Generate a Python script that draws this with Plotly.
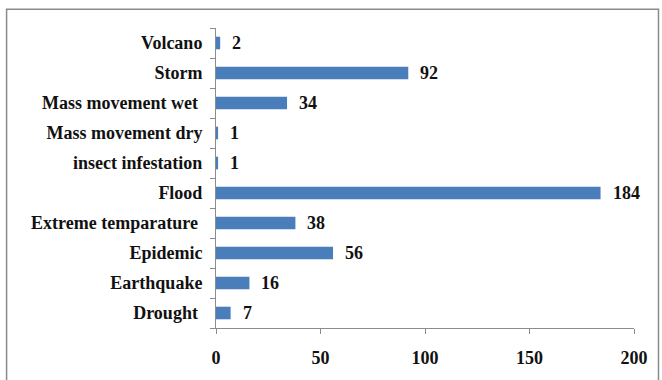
import plotly.graph_objects as go

categories = ["Drought", "Earthquake", "Epidemic", "Extreme temparature", "Flood",
              "insect infestation", "Mass movement dry", "Mass movement wet", "Storm", "Volcano"]
values = [7, 16, 56, 38, 184, 1, 1, 34, 92, 2]
x_ticks = [0, 50, 100, 150, 200]
# labels as printed (some carry a trailing space in the original)
tick_text = ["Drought\u00a0", "Earthquake", "Epidemic", "Extreme temparature\u00a0", "Flood",
             "insect infestation", "Mass movement dry", "Mass movement wet\u00a0", "Storm", "Volcano"]

FONT = "Liberation Serif"
BAR = "#4A7EBB"

fig = go.Figure()
fig.add_trace(go.Bar(
    y=categories, x=values, orientation="h",
    marker=dict(color=BAR, line=dict(width=0)),
    width=0.42,
))

for c, v in zip(categories, values):
    fig.add_annotation(x=v, y=c, text=str(v), showarrow=False, xanchor="left",
                       xshift=10, font=dict(family=FONT, size=18, color="#111", weight="bold"))

fig.add_shape(type="rect", xref="paper", yref="paper",
              x0=-0.501, x1=1.0586, y0=-0.18, y1=1.0629,
              line=dict(color="#8a8a8a", width=1.5), fillcolor="rgba(0,0,0,0)", layer="below")

fig.update_layout(
    width=662, height=380,
    margin=dict(l=216, r=28, t=28, b=50),
    paper_bgcolor="white", plot_bgcolor="white",
    showlegend=False,
    xaxis=dict(range=[0, 200], tickvals=x_ticks, showgrid=False, zeroline=False,
               showline=True, linecolor="#8c8c8c", linewidth=1,
               ticks="outside", ticklen=5, tickcolor="#8c8c8c", ticklabelstandoff=8,
               tickfont=dict(family=FONT, size=18, color="#111", weight="bold")),
    yaxis=dict(type="category", categoryorder="array", categoryarray=categories,
               tickvals=categories, ticktext=tick_text,
               range=[-0.5, 9.5], showgrid=False, zeroline=False,
               showline=True, linecolor="#8c8c8c", linewidth=1,
               ticks="outside", ticklen=5, tickcolor="#8c8c8c", tickson="boundaries",
               ticklabelstandoff=9,
               tickfont=dict(family=FONT, size=18, color="#111", weight="bold")),
)

fig.write_html("out.html")
